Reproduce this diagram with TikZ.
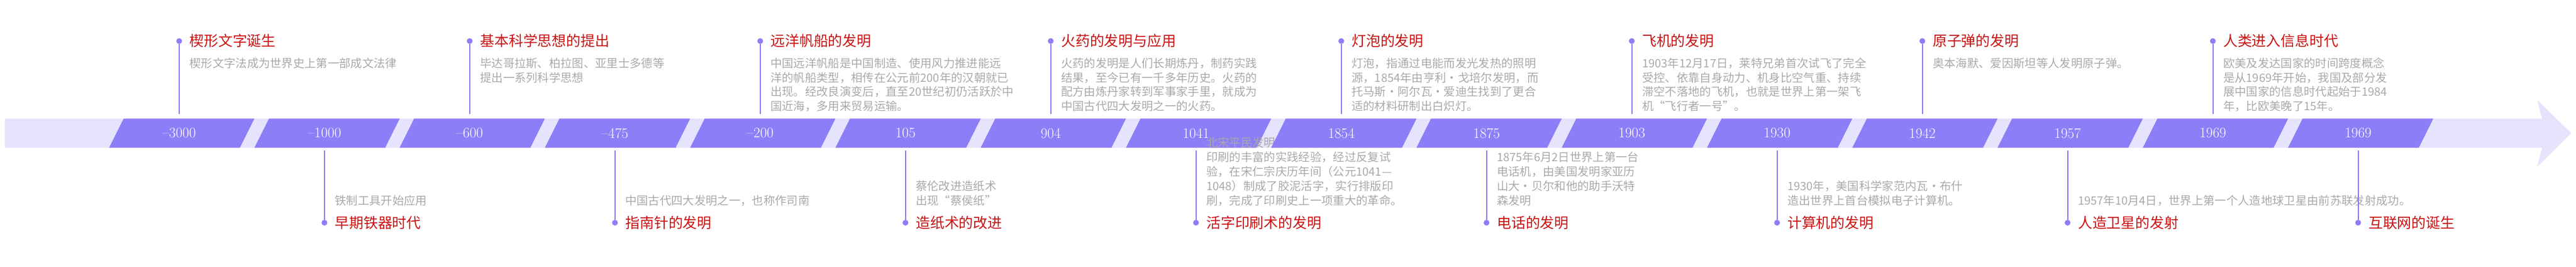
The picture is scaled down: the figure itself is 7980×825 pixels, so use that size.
\documentclass[tikz,border=0pt]{standalone}
\usepackage{fontspec}
\newfontfamily\cjk{Noto Sans CJK SC}
\definecolor{bandpurple}{HTML}{8D7DF6}
\definecolor{bandlight}{HTML}{E6E3FC}
\definecolor{titlered}{HTML}{CC1010}
\definecolor{descgray}{HTML}{A8A8A8}

\begin{document}
\begin{tikzpicture}[x=1pt, y=1pt,
    seg/.style={fill=bandpurple},
    yearlbl/.style={text=white, inner sep=0pt, font=\fontsize{45}{50}\selectfont},
    dot/.style={circle, fill=bandpurple, inner sep=0pt, minimum size=18pt},
    stem/.style={draw=bandpurple, line width=4pt},
    ttl/.style={text=titlered, inner sep=0pt, anchor=base west, font=\cjk\fontsize{44.6}{50}\selectfont},
    desc/.style={text=descgray, inner sep=0pt, anchor=base west, font=\cjk\fontsize{35.7}{44.7}\selectfont}
  ]
  \useasboundingbox (0,0) rectangle (7980,825);
  % light band with the arrow head
  \fill[bandlight] (15,368) -- (7875,368) -- (7859,308) -- (7965,413)
    -- (7859,517) -- (7875,458) -- (15,458) -- cycle;

  % one purple step per event, t = above the band, b = below
  \foreach \i/\evyear/\evpos/\evtitle/\evtext in {
    0/{–3000}/t/{楔形文字诞生}/{楔形文字法成为世界史上第一部成文法律},
    1/{–1000}/b/{早期铁器时代}/{铁制工具开始应用},
    2/{–600}/t/{基本科学思想的提出}/{毕达哥拉斯、柏拉图、亚里士多德等\\提出一系列科学思想},
    3/{–475}/b/{指南针的发明}/{中国古代四大发明之一，也称作司南},
    4/{–200}/t/{远洋帆船的发明}/{中国远洋帆船是中国制造、使用风力推进能远\\洋的帆船类型，相传在公元前200年的汉朝就已\\出现。经改良演变后，直至20世纪初仍活跃於中\\国近海，多用来贸易运输。},
    5/{105}/b/{造纸术的改进}/{蔡伦改进造纸术\\出现“蔡侯纸”},
    6/{904}/t/{火药的发明与应用}/{火药的发明是人们长期炼丹，制药实践\\结果，至今已有一千多年历史。火药的\\配方由炼丹家转到军事家手里，就成为\\中国古代四大发明之一的火药。},
    7/{1041}/b/{活字印刷术的发明}/{北宋平民发明家毕昇总结了历代雕版\\印刷的丰富的实践经验，经过反复试\\验，在宋仁宗庆历年间（公元1041—\\1048）制成了胶泥活字，实行排版印\\刷，完成了印刷史上一项重大的革命。},
    8/{1854}/t/{灯泡的发明}/{灯泡，指通过电能而发光发热的照明\\源，1854年由亨利·戈培尔发明，而\\托马斯·阿尔瓦·爱迪生找到了更合\\适的材料研制出白炽灯。},
    9/{1875}/b/{电话的发明}/{1875年6月2日世界上第一台\\电话机，由美国发明家亚历\\山大·贝尔和他的助手沃特\\森发明},
    10/{1903}/t/{飞机的发明}/{1903年12月17日，莱特兄弟首次试飞了完全\\受控、依靠自身动力、机身比空气重、持续\\滞空不落地的飞机，也就是世界上第一架飞\\机“飞行者一号”。},
    11/{1930}/b/{计算机的发明}/{1930年，美国科学家范内瓦·布什\\造出世界上首台模拟电子计算机。},
    12/{1942}/t/{原子弹的发明}/{奥本海默、爱因斯坦等人发明原子弹。},
    13/{1957}/b/{人造卫星的发射}/{1957年10月4日，世界上第一个人造地球卫星由前苏联发射成功。},
    14/{1969}/t/{人类进入信息时代}/{欧美及发达国家的时间跨度概念\\是从1969年开始，我国及部分发\\展中国家的信息时代起始于1984\\年，比欧美晚了15年。},
    15/{1969}/b/{互联网的诞生}/{}}{
    \pgfmathsetmacro\xs{555+450*\i}
    \fill[seg] (338+450*\i,368) -- ++(405,0) -- ++(45,90) -- ++(-405,0) -- cycle;
    \node[yearlbl] (y\i) at (\xs,413) {\evyear};
    \if t\evpos
      \node[dot] (d\i) at (\xs,698) {};
      \coordinate (s\i) at (\xs,473);
      \node[ttl] (t\i) at (\xs+32,681) {\evtitle};
      \node[desc] (c\i) at (\xs+32,616.4) {\begin{tabular}[t]{@{}l@{}}\evtext\end{tabular}};
    \else
      \node[dot] (d\i) at (\xs,136) {};
      \coordinate (s\i) at (\xs,359);
      \node[ttl] (t\i) at (\xs+32,119) {\evtitle};
      \node[desc] (c\i) at (\xs+32,190.4) {\begin{tabular}[b]{@{}l@{}}\evtext\end{tabular}};
    \fi
    \draw[stem] (d\i) -- (s\i);
  }
\end{tikzpicture}
\end{document}
